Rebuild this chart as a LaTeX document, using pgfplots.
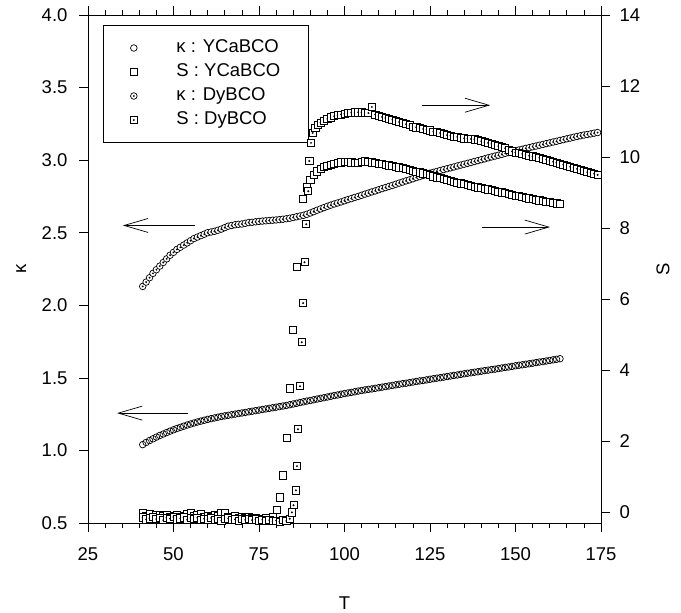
\documentclass[border=0pt]{standalone}
\usepackage{fontspec}
\setmainfont{Liberation Sans}
\usepackage{pgfplots}
\usepackage{pgfplotstable}
\pgfplotsset{compat=1.18}
\usetikzlibrary{arrows.meta}

% circle / square with a dot in the middle
\pgfdeclareplotmark{odot}{%
  \pgfpathcircle{\pgfpointorigin}{\pgfplotmarksize}\pgfusepathqfillstroke
  \pgfscope\pgfsetfillcolor{black}%
  \pgfpathcircle{\pgfpointorigin}{0.32\pgfplotmarksize}\pgfusepathqfill\endpgfscope}
\pgfdeclareplotmark{sqdot}{%
  \pgfpathrectangle{\pgfpoint{-\pgfplotmarksize}{-\pgfplotmarksize}}%
    {\pgfpoint{2\pgfplotmarksize}{2\pgfplotmarksize}}\pgfusepathqfillstroke
  \pgfscope\pgfsetfillcolor{black}%
  \pgfpathcircle{\pgfpointorigin}{0.3\pgfplotmarksize}\pgfusepathqfill\endpgfscope}

% kappa, YCaBCO
\pgfplotstableread{
T k
41 1.040
42 1.055
43 1.068
44 1.080
45 1.092
46 1.103
47 1.113
48 1.123
49 1.133
50 1.142
51 1.151
52 1.159
53 1.167
54 1.175
55 1.182
56 1.189
57 1.196
58 1.202
59 1.208
60 1.214
61 1.219
62 1.224
63 1.229
64 1.234
65 1.238
66 1.242
67 1.246
68 1.250
69 1.254
70 1.258
71 1.262
72 1.266
73 1.270
74 1.274
75 1.278
76 1.282
77 1.286
78 1.290
79 1.294
80 1.298
81 1.302
82 1.306
83 1.310
84 1.315
85 1.320
86 1.325
87 1.330
88 1.335
89 1.340
90 1.344
91 1.349
92 1.354
93 1.359
94 1.363
95 1.368
96 1.373
97 1.378
98 1.382
99 1.387
100 1.392
101 1.396
102 1.400
103 1.404
104 1.409
105 1.413
106 1.417
107 1.421
108 1.424
109 1.428
110 1.432
111 1.436
112 1.440
113 1.444
114 1.448
115 1.452
116 1.456
117 1.460
118 1.463
119 1.467
120 1.471
121 1.475
122 1.479
123 1.482
124 1.486
125 1.490
126 1.494
127 1.498
128 1.501
129 1.505
130 1.509
131 1.513
132 1.517
133 1.520
134 1.524
135 1.528
136 1.532
137 1.535
138 1.539
139 1.542
140 1.546
141 1.550
142 1.553
143 1.557
144 1.560
145 1.564
146 1.568
147 1.572
148 1.575
149 1.579
150 1.583
151 1.587
152 1.590
153 1.594
154 1.597
155 1.601
156 1.605
157 1.609
158 1.612
159 1.616
160 1.620
161 1.624
162 1.628
163 1.632
}\kyca

% kappa, DyBCO
\pgfplotstableread{
T k
41 2.130
42 2.160
43 2.190
44 2.220
45 2.245
46 2.270
47 2.295
48 2.320
49 2.345
50 2.365
51 2.385
52 2.400
53 2.415
54 2.430
55 2.445
56 2.460
57 2.470
58 2.480
59 2.490
60 2.500
61 2.505
62 2.510
63 2.517
64 2.525
65 2.535
66 2.545
67 2.550
68 2.555
69 2.558
70 2.560
71 2.565
72 2.570
73 2.572
74 2.575
75 2.578
76 2.580
77 2.582
78 2.584
79 2.586
80 2.588
81 2.590
82 2.593
83 2.596
84 2.600
85 2.605
86 2.610
87 2.615
88 2.620
89 2.627
90 2.636
91 2.645
92 2.655
93 2.664
94 2.673
95 2.682
96 2.690
97 2.698
98 2.705
99 2.712
100 2.720
101 2.728
102 2.735
103 2.743
104 2.750
105 2.758
106 2.766
107 2.773
108 2.781
109 2.788
110 2.796
111 2.804
112 2.811
113 2.819
114 2.826
115 2.834
116 2.842
117 2.849
118 2.857
119 2.864
120 2.872
121 2.880
122 2.887
123 2.895
124 2.902
125 2.910
126 2.916
127 2.922
128 2.929
129 2.935
130 2.941
131 2.947
132 2.953
133 2.960
134 2.966
135 2.972
136 2.978
137 2.984
138 2.991
139 2.997
140 3.003
141 3.009
142 3.016
143 3.022
144 3.028
145 3.034
146 3.040
147 3.047
148 3.053
149 3.059
150 3.064
151 3.070
152 3.075
153 3.081
154 3.086
155 3.092
156 3.097
157 3.103
158 3.108
159 3.114
160 3.119
161 3.125
162 3.130
163 3.136
164 3.141
165 3.147
166 3.152
167 3.158
168 3.163
169 3.168
170 3.173
171 3.177
172 3.181
173 3.186
174 3.190
}\kdy

% S, YCaBCO
\pgfplotstableread{
T S
41 -0.02
42 -0.10
43 -0.05
44 -0.12
45 -0.08
46 -0.06
47 -0.11
48 -0.07
49 -0.13
50 -0.09
51 -0.06
52 -0.12
53 -0.10
54 -0.05
55 -0.03
56 -0.11
57 -0.08
58 -0.04
59 -0.12
60 -0.10
61 -0.13
62 -0.08
63 -0.11
64 -0.02
65 -0.03
66 -0.12
67 -0.14
68 -0.10
69 -0.15
70 -0.12
71 -0.16
72 -0.13
73 -0.17
74 -0.15
75 -0.18
76 -0.20
77 -0.17
78 -0.21
79 -0.12
80.3 0.06
81.1 0.42
82.0 1.04
83.2 2.10
84.1 3.49
85.0 5.13
86.1 6.90
87.9 8.82
89 9.15
90 9.35
91 9.50
92 9.60
93 9.67
94 9.72
95 9.76
96 9.79
97 9.82
98 9.84
99 9.85
100 9.86
101 9.86
102 9.85
103 9.84
104 9.84
105 9.86
106 9.88
107 9.87
108 9.85
109 9.84
110 9.82
111 9.80
112 9.78
113 9.77
114 9.75
115 9.73
116 9.71
117 9.69
118 9.67
119 9.64
120 9.62
121 9.59
122 9.57
123 9.54
124 9.52
125 9.49
126 9.46
127 9.43
128 9.41
129 9.38
130 9.35
131 9.33
132 9.31
133 9.28
134 9.26
135 9.24
136 9.22
137 9.19
138 9.17
139 9.15
140 9.13
141 9.11
142 9.09
143 9.07
144 9.05
145 9.03
146 9.01
147 8.99
148 8.97
149 8.94
150 8.92
151 8.90
152 8.88
153 8.86
154 8.84
155 8.82
156 8.80
157 8.78
158 8.77
159 8.75
160 8.73
161 8.72
162 8.70
163 8.69
}\syca

% S, DyBCO
\pgfplotstableread{
T S
41 -0.14
42 -0.20
43 -0.17
44 -0.12
45 -0.19
46 -0.16
47 -0.22
48 -0.15
49 -0.18
50 -0.13
51 -0.20
52 -0.17
53 -0.14
54 -0.21
55 -0.16
56 -0.19
57 -0.15
58 -0.22
59 -0.18
60 -0.20
61 -0.16
62 -0.21
63 -0.18
64 -0.23
65 -0.19
66 -0.17
67 -0.22
68 -0.20
69 -0.24
70 -0.19
71 -0.21
72 -0.18
73 -0.22
74 -0.20
75 -0.23
76 -0.21
77 -0.24
78 -0.22
79 -0.25
80 -0.23
81 -0.26
82 -0.22
83 -0.24
84 -0.18
84.6 0.00
85.1 0.20
85.8 0.62
86.1 1.30
86.4 2.34
87.0 3.55
87.5 4.79
87.9 5.89
88.3 7.04
88.8 8.11
89.4 9.04
89.7 9.89
90.2 10.40
90.7 10.68
91.5 10.82
92.3 10.90
93 10.97
94 11.03
95 11.08
96 11.12
97 11.15
98 11.18
99 11.20
100 11.22
101 11.24
102 11.25
103 11.26
104 11.26
105 11.26
106 11.25
107 11.24
108 11.41
109 11.20
110 11.16
111 11.13
112 11.10
113 11.07
114 11.05
115 11.02
116 10.99
117 10.96
118 10.93
119 10.90
120 10.86
121 10.84
122 10.82
123 10.79
124 10.77
125 10.75
126 10.72
127 10.70
128 10.68
129 10.65
130 10.62
131 10.60
132 10.58
133 10.57
134 10.55
135 10.53
136 10.52
137 10.51
138 10.50
139 10.48
140 10.45
141 10.42
142 10.40
143 10.37
144 10.34
145 10.31
146 10.28
147 10.25
148 10.20
149 10.16
150 10.13
151 10.11
152 10.09
153 10.06
154 10.04
155 10.02
156 10.00
157 9.98
158 9.95
159 9.93
160 9.90
161 9.87
162 9.84
163 9.81
164 9.79
165 9.76
166 9.73
167 9.70
168 9.67
169 9.64
170 9.61
171 9.58
172 9.56
173 9.53
174 9.50
}\sdy

\tikzset{arr/.style={line width=0.7pt, -{Straight Barb[length=24pt, width=14pt, line width=0.7pt]}}}

\pgfplotsset{
  base/.style={
    scale only axis, width=513pt, height=508pt,
    xmin=25, xmax=175,
    tick align=outside,
    major tick length=9pt, minor tick length=5pt,
    every tick/.style={black, line width=0.7pt},
    axis line style={black, line width=0.8pt},
    tick label style={font=\fontsize{18.5}{20}\selectfont},
    /pgf/number format/assume math mode=true,
  },
  ymk/.style={only marks, mark=o, mark size=3.3pt, line width=0.7pt, black, mark options={fill=white}},
  ysq/.style={only marks, mark=square*, mark size=3.6pt, line width=0.7pt, black, mark options={fill=white}},
  dmk/.style={only marks, mark=odot, mark size=3.3pt, line width=0.7pt, black, mark options={fill=white}},
  dsq/.style={only marks, mark=sqdot, mark size=3.6pt, line width=0.7pt, black, mark options={fill=white}},
}

\begin{document}
\begin{tikzpicture}
\begin{axis}[base, name=ax,
    ymin=0.5, ymax=4.0,
    xtick={25,50,...,175}, minor x tick num=4,
    xtick pos=both, xticklabel pos=lower,
    ytick={0.5,1.0,...,4.0}, ytick pos=left,
    yticklabel style={xshift=-8pt, /pgf/number format/.cd, fixed, fixed zerofill, precision=1},
    xticklabel style={yshift=-12pt},
    xlabel={T}, ylabel={κ},
    every axis x label/.style={at={(axis description cs:0.5,-0.157)}, anchor=center,
      font=\fontsize{18.5}{20}\selectfont},
    every axis y label/.style={at={(axis description cs:-0.13,0.5)}, anchor=center, rotate=90,
      font=\fontsize{18.5}{20}\selectfont},
    legend style={at={(0.029,0.980)}, anchor=north west, draw=black, line width=0.7pt,
      font=\fontsize{18.5}{20}\selectfont, inner xsep=27pt, inner ysep=13pt,
      row sep=5pt, nodes={inner sep=1pt, text height=13pt, text depth=4pt}},
    legend cell align=left,
    /tikz/every odd column/.append style={column sep=38pt},
    legend image code/.code={\draw[#1] plot coordinates {(0pt,0pt)};},
]
\addplot[ymk] table[x=T, y=k] {\kyca};
\addlegendentry{κ : YCaBCO}
\addlegendimage{ysq}
\addlegendentry{S : YCaBCO}
\addplot[dmk] table[x=T, y=k] {\kdy};
\addlegendentry{κ : DyBCO}
\addlegendimage{dsq}
\addlegendentry{S : DyBCO}
\draw[arr] (axis cs:56.3,2.55) -- (axis cs:35.2,2.55);
\draw[arr] (axis cs:54.2,1.257) -- (axis cs:33.5,1.257);
\end{axis}
\begin{axis}[base,
    ymin=-0.3, ymax=14,
    axis x line=none, axis y line*=right,
    ytick={0,2,...,14},
    yticklabel style={xshift=6pt},
    ylabel={S},
    every axis y label/.style={at={(axis description cs:1.121,0.5)}, anchor=center, rotate=90,
      font=\fontsize{18.5}{20}\selectfont},
]
\addplot[ysq] table[x=T, y=S] {\syca};
\addplot[dsq] table[x=T, y=S] {\sdy};
\draw[arr] (axis cs:122.7,11.46) -- (axis cs:142.6,11.46);
\draw[arr] (axis cs:140.2,8.03) -- (axis cs:160.1,8.03);
\end{axis}
\path (ax.south west) ++(-88pt,-90pt) coordinate (bl);
\path (ax.north east) ++(80pt,15pt) coordinate (tr);
\path (bl) rectangle (tr);
\end{tikzpicture}
\end{document}
